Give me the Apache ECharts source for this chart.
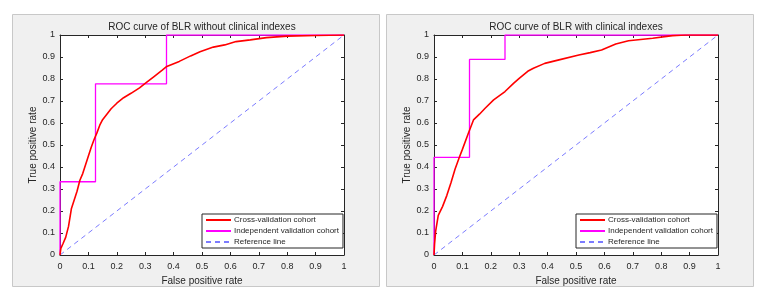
<!DOCTYPE html>
<html><head><meta charset="utf-8">
<script src="https://cdn.jsdelivr.net/npm/echarts@6/dist/echarts.min.js"></script>
<style>html,body{margin:0;padding:0;background:#fff}#c{width:770px;height:301px}</style>
</head><body><div id="c"></div>
<script>
const titles = ['ROC curve of BLR without clinical indexes', 'ROC curve of BLR with clinical indexes'];
const seriesNames = ['Cross-validation cohort', 'Independent validation cohort', 'Reference line'];
const tickLabels = ['0','0.1','0.2','0.3','0.4','0.5','0.6','0.7','0.8','0.9','1'];

const cvX1 = [0,0.003,0.01,0.02,0.03,0.04,0.05,0.06,0.07,0.08,0.09,0.1,0.11,0.12,0.13,0.14,0.15,0.165,0.18,0.2,0.224,0.25,0.28,0.3,0.33,0.36,0.376,0.42,0.46,0.493,0.54,0.58,0.62,0.67,0.727,0.8,0.9,1];
const cvY1 = [0,0.03,0.05,0.08,0.13,0.21,0.25,0.29,0.34,0.37,0.41,0.45,0.49,0.525,0.555,0.59,0.615,0.64,0.665,0.69,0.715,0.735,0.76,0.78,0.81,0.84,0.857,0.88,0.905,0.924,0.945,0.955,0.97,0.978,0.988,0.995,0.998,1];
const ivX1 = [0,0,0.125,0.125,0.375,0.375,1];
const ivY1 = [0,0.333,0.333,0.778,0.778,1,1];

const cvX2 = [0,0.002,0.006,0.015,0.03,0.045,0.06,0.074,0.088,0.1,0.12,0.139,0.16,0.18,0.21,0.25,0.28,0.3,0.33,0.35,0.39,0.44,0.51,0.55,0.59,0.64,0.685,0.77,0.84,0.885,1];
const cvY2 = [0,0.05,0.11,0.18,0.22,0.27,0.33,0.39,0.44,0.48,0.55,0.614,0.64,0.667,0.705,0.743,0.78,0.803,0.835,0.849,0.871,0.887,0.909,0.92,0.932,0.959,0.974,0.985,0.997,1,1];
const ivX2 = [0,0,0.125,0.125,0.25,0.25,1];
const ivY2 = [0,0.444,0.444,0.889,0.889,1,1];

const refX = [0,1];
const refY = [0,1];

const zip = (a,b) => a.map((v,i)=>[v,b[i]]);
const panels = [
  {cv: zip(cvX1,cvY1), iv: zip(ivX1,ivY1), left: 60, bg: 12, lg: 202},
  {cv: zip(cvX2,cvY2), iv: zip(ivX2,ivY2), left: 434, bg: 386, lg: 576}
];
const font = 'Liberation Sans, Arial, sans-serif';
const axisCol = '#262626';
const grid = [], xAxis = [], yAxis = [], series = [], title = [], legend = [], graphic = [];
function mkAxis(i, pos, extra) {
  return Object.assign({type:'value', min:0, max:1, interval:0.1, gridIndex:i, position:pos,
    splitLine:{show:false},
    axisLine:{show:true, onZero:false, lineStyle:{color:axisCol, width:1}},
    axisTick:{show:true, inside:true, length:3, lineStyle:{color:axisCol}},
    axisLabel:{show:false}}, extra);
}
panels.forEach((p, i) => {
  graphic.push({type:'rect', shape:{x:p.bg + 0.5, y:14.5, width:367, height:272}, style:{fill:'#f0f0f0', stroke:'#c8c8c8', lineWidth:1}, z:-10, silent:true});
  grid.push({left:p.left, top:35, width:284, height:220, show:true, backgroundColor:'#fff', borderColor:axisCol, borderWidth:0});
  title.push({text:titles[i], left:p.left+142, textAlign:'center', top:22, padding:0, textStyle:{fontFamily:font, fontSize:10, fontWeight:'normal', color:axisCol}});
  xAxis.push(mkAxis(i, 'bottom', {name:'False positive rate', nameLocation:'middle', nameGap:17,
    nameTextStyle:{fontFamily:font, fontSize:10, color:axisCol},
    axisLabel:{show:true, fontFamily:font, fontSize:9, color:axisCol, margin:7, formatter:v=>tickLabels[Math.round(v*10)]}}));
  xAxis.push(mkAxis(i, 'top', {}));
  yAxis.push(mkAxis(i, 'left', {name:'True positive rate', nameLocation:'middle', nameGap:19,
    nameTextStyle:{fontFamily:font, fontSize:10, color:axisCol},
    axisLabel:{show:true, fontFamily:font, fontSize:9, color:axisCol, margin:5, formatter:v=>tickLabels[Math.round(v*10)]}}));
  yAxis.push(mkAxis(i, 'right', {}));
  const xi = i*2, yi = i*2;
  series.push({name:seriesNames[0], type:'line', xAxisIndex:xi, yAxisIndex:yi, data:p.cv, showSymbol:false, symbol:'none',
    lineStyle:{color:'#ff0000', width:1.6}, itemStyle:{color:'#ff0000'}, z:3});
  series.push({name:seriesNames[1], type:'line', xAxisIndex:xi, yAxisIndex:yi, data:p.iv, showSymbol:false, symbol:'none',
    lineStyle:{color:'#ff00ff', width:1.3}, itemStyle:{color:'#ff00ff'}, z:2});
  series.push({name:seriesNames[2], type:'line', xAxisIndex:xi, yAxisIndex:yi, data:zip(refX,refY), showSymbol:false, symbol:'none',
    lineStyle:{color:'#7b7bff', width:1, type:[5,4]}, itemStyle:{color:'#7b7bff'}, z:1});
  legend.push({data:seriesNames, orient:'vertical', left:p.lg, top:214, itemWidth:25, itemHeight:8, itemGap:3,
    backgroundColor:'#fff', borderColor:axisCol, borderWidth:1, borderRadius:0, padding:[2,4,2,3],
    itemStyle:{opacity:0},
    textStyle:{fontFamily:font, fontSize:8, color:axisCol, padding:[0,0,0,-2]}, selectedMode:false});
});
const chart = echarts.init(document.getElementById('c'));
chart.setOption({animation:false, backgroundColor:'#fff', graphic, grid, title, xAxis, yAxis, series, legend});
</script></body></html>
